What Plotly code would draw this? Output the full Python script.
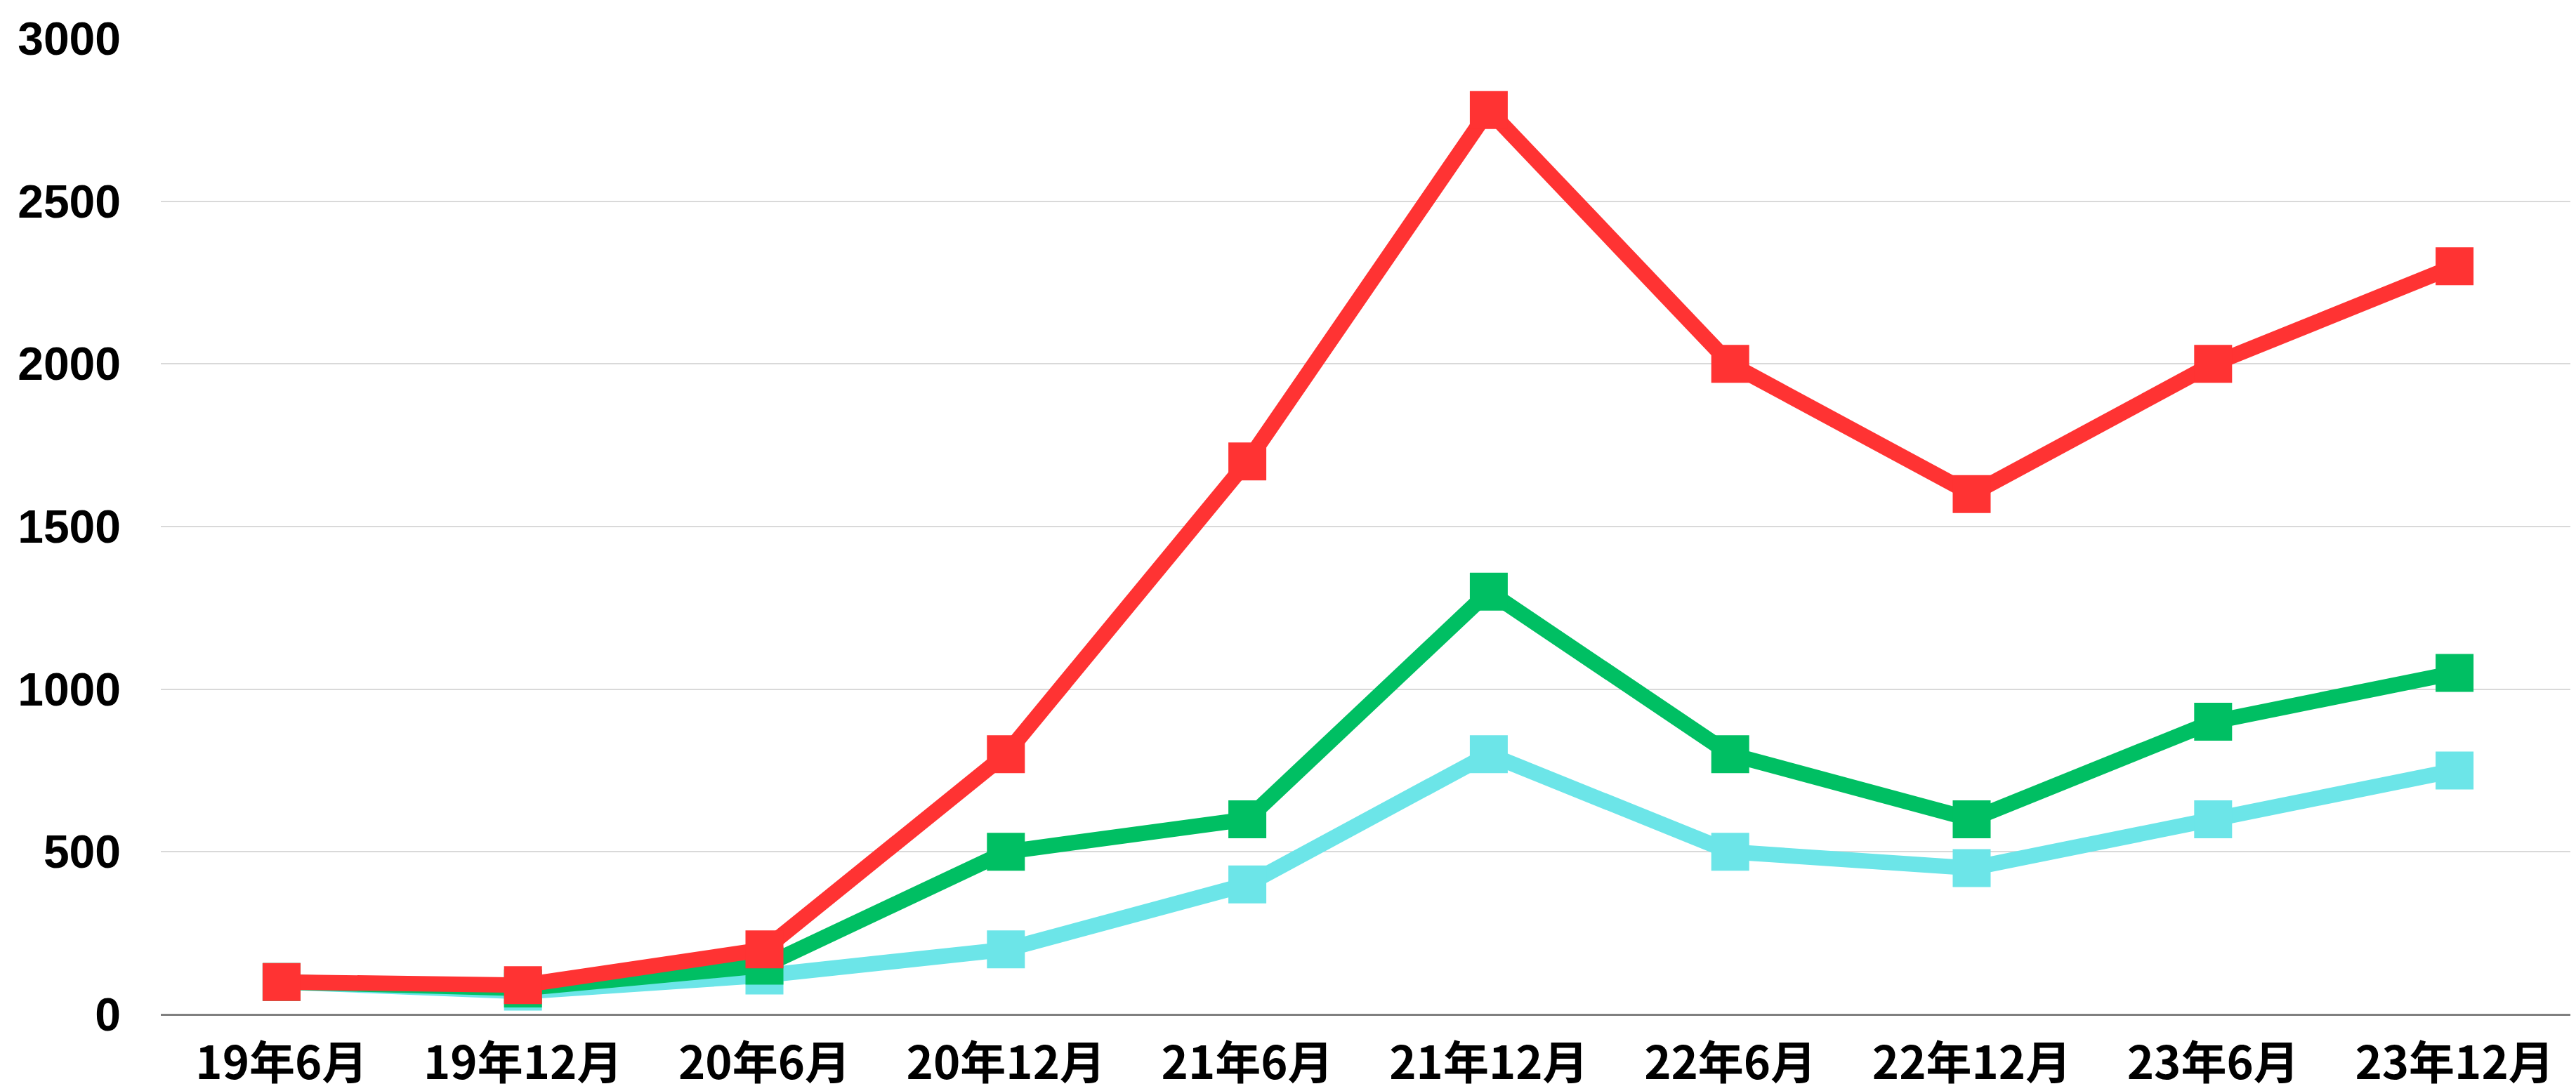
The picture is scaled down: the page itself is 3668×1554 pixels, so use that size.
import plotly.graph_objects as go

# periods on the x axis
periods = ["19年6月", "19年12月", "20年6月", "20年12月", "21年6月",
           "21年12月", "22年6月", "22年12月", "23年6月", "23年12月"]

# series values
cyan_vals = [100, 70, 120, 200, 400, 800, 500, 450, 600, 750]
green_vals = [100, 80, 150, 500, 600, 1300, 800, 600, 900, 1050]
red_vals = [100, 90, 200, 800, 1700, 2780, 2000, 1600, 2000, 2300]

y_ticks = [0, 500, 1000, 1500, 2000, 2500, 3000]

fig = go.Figure()

for vals, color in [(cyan_vals, "#6CE5E8"), (green_vals, "#00BF63"), (red_vals, "#FF3333")]:
    fig.add_trace(go.Scatter(
        x=periods, y=vals,
        mode="lines+markers",
        line=dict(color=color, width=22),
        marker=dict(symbol="square", size=54, color=color),
        showlegend=False,
        hoverinfo="skip"
    ))

fig.update_layout(
    width=3668, height=1554,
    paper_bgcolor="white",
    plot_bgcolor="rgba(0,0,0,0)",
    margin=dict(l=221, r=9, t=46, b=117),
    xaxis=dict(
        type="category",
        range=[-0.5, len(periods) - 0.5],
        automargin=False,
        showgrid=False,
        showline=False,
        zeroline=False,
        ticks="",
        tickfont=dict(family="Noto Sans CJK JP, sans-serif", size=65, color="black", weight="bold"),
        ticklabelstandoff=26,
    ),
    yaxis=dict(
        range=[0, 3002],
        tickvals=y_ticks,
        automargin=False,
        showgrid=True,
        gridcolor="#D9D9D9",
        gridwidth=2,
        zeroline=True,
        zerolinecolor="#808080",
        zerolinewidth=3,
        showline=False,
        ticks="",
        ticklabeloverflow="allow",
        tickfont=dict(family="Liberation Sans, Arial, sans-serif", size=66, color="black", weight="bold"),
        ticklabelstandoff=56,
    ),
)

fig.write_html("out.html")
